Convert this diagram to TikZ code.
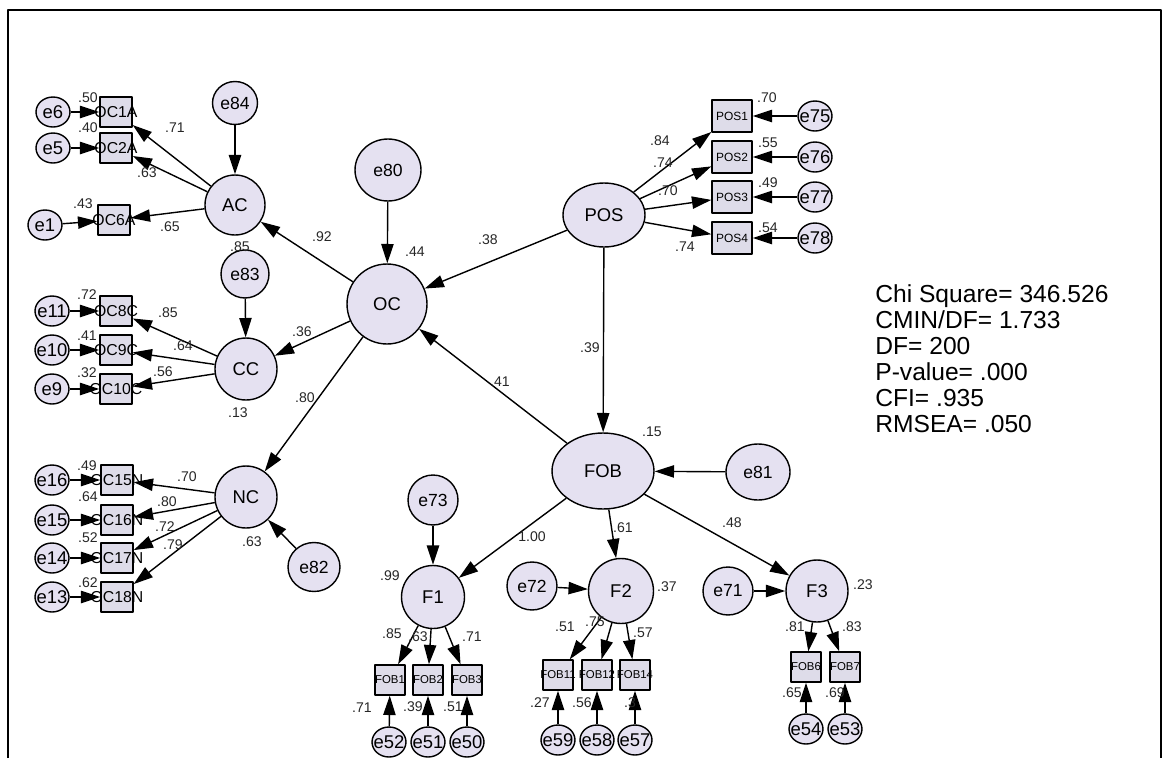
\documentclass[tikz,border=0pt]{standalone}
\usepackage{fontspec}
\setmainfont{Liberation Sans}
\usetikzlibrary{arrows.meta,shapes.geometric}
\definecolor{latfill}{RGB}{229,225,241}
\definecolor{obsfill}{RGB}{222,220,233}
\newcommand{\cl}[1]{\makebox[0pt]{#1}}
\begin{document}
\begin{tikzpicture}[x=0.02cm,y=-0.02cm,line join=round,>={Triangle[length=11pt,width=7pt]},
	lat/.style={ellipse,draw,line width=0.8pt,fill=latfill,inner sep=0pt,font=\fontsize{10.5}{11}\selectfont},
	err/.style={ellipse,draw,line width=0.8pt,fill=latfill,inner sep=0pt,minimum width=0.68cm,minimum height=0.6cm,font=\fontsize{10.5}{10}\selectfont},
	obs/.style={rectangle,draw,line width=0.8pt,fill=obsfill,inner sep=0pt,minimum width=0.64cm,minimum height=0.6cm},
	coef/.style={font=\fontsize{8}{8}\selectfont,inner sep=0pt,text=black!85},
	path/.style={->,line width=0.8pt}]
	\useasboundingbox (0,0) rectangle (1164,758);
	\draw[line width=1.1pt] (8,758)--(8,10)--(1161,10)--(1161,758);
	\node[lat,minimum size=1.2cm] (AC) at (235,205) {AC};
	\node[lat,minimum size=1.6cm] (OC) at (387,304) {OC};
	\node[lat,minimum size=1.24cm] (CC) at (246,369) {CC};
	\node[lat,minimum size=1.24cm] (NC) at (246,497) {NC};
	\node[lat,minimum width=1.64cm,minimum height=1.28cm] (POS) at (604,215) {POS};
	\node[lat,minimum width=2.04cm,minimum height=1.52cm] (FOB) at (603,471) {FOB};
	\node[lat,minimum size=1.26cm] (F1) at (433,597) {F1};
	\node[lat,minimum size=1.3cm] (F2) at (621,591) {F2};
	\node[lat,minimum size=1.24cm] (F3) at (817,591) {F3};
	\node[lat,minimum width=0.9cm,minimum height=0.86cm,font=\fontsize{10}{10}\selectfont] (e84) at (235,103) {e84};
	\node[lat,minimum width=1.32cm,minimum height=1.24cm,font=\fontsize{10}{10}\selectfont] (e80) at (388,170) {e80};
	\node[lat,minimum size=0.96cm,font=\fontsize{10}{10}\selectfont] (e83) at (245,274) {e83};
	\node[lat,minimum width=1.04cm,minimum height=0.98cm,font=\fontsize{10}{10}\selectfont] (e82) at (314,567) {e82};
	\node[lat,minimum width=1.28cm,minimum height=1.12cm,font=\fontsize{10}{10}\selectfont] (e81) at (758,472) {e81};
	\node[lat,minimum size=1cm,font=\fontsize{10}{10}\selectfont] (e73) at (433,500) {e73};
	\node[lat,minimum width=1cm,minimum height=0.96cm,font=\fontsize{10}{10}\selectfont] (e72) at (532,586) {e72};
	\node[lat,minimum width=1cm,minimum height=0.96cm,font=\fontsize{10}{10}\selectfont] (e71) at (728,591) {e71};
	\foreach \n/\x/\y in {OC1A/116/112,OC2A/116/148,OC6A/114/220,OC8C/116/311,OC9C/116/350,OC10C/116/389,OC15N/117/480,OC16N/117/520,OC17N/117/558,OC18N/117/597}
		\node[obs,font=\fontsize{9}{9}\selectfont] (\n) at (\x,\y) {\cl{\n}};
	\foreach \n/\y in {POS1/116,POS2/157,POS3/197,POS4/238}
		\node[obs,minimum width=0.8cm,minimum height=0.64cm,font=\fontsize{6.8}{7}\selectfont] (\n) at (732,\y) {\cl{\n}};
	\foreach \n/\x/\y in {FOB1/390/680,FOB2/428/680,FOB3/467/680,FOB11/558/675,FOB12/597/675,FOB14/635/675,FOB6/806/667,FOB7/845/667}
		\node[obs,minimum width=0.6cm,minimum height=0.6cm,font=\fontsize{6.5}{7}\selectfont] (\n) at (\x,\y) {\cl{\n}};
	\foreach \n/\x/\y in {e6/53/112,e5/53/148,e1/45/225,e11/52/311,e10/52/350,e9/52/389,e16/52/480,e15/52/520,e14/52/558,e13/52/597,e75/815/116,e76/815/157,e77/815/197,e78/815/238,e52/389/742,e51/428/742,e50/467/742,e59/558/740,e58/597/740,e57/635/740,e54/806/729,e53/845/729}
		\node[err] (\n) at (\x,\y) {\cl{\n}};
	\foreach \a/\b in {e84/AC,OC/AC,e80/OC,POS/OC,OC/CC,OC/NC,FOB/OC,POS/FOB,e83/CC,e82/NC,e81/FOB,FOB/F1,FOB/F2,FOB/F3,e73/F1,e72/F2,e71/F3}
		\draw[path] (\a)--(\b);
	\foreach \a/\b in {AC/OC1A,AC/OC2A,AC/OC6A,CC/OC8C,CC/OC9C,CC/OC10C,NC/OC15N,NC/OC16N,NC/OC17N,NC/OC18N,POS/POS1,POS/POS2,POS/POS3,POS/POS4,F1/FOB1,F1/FOB2,F1/FOB3,F2/FOB11,F2/FOB12,F2/FOB14,F3/FOB6,F3/FOB7}
		\draw[path] (\a)--(\b);
	\foreach \a/\b in {e6/OC1A,e5/OC2A,e1/OC6A,e11/OC8C,e10/OC9C,e9/OC10C,e16/OC15N,e15/OC16N,e14/OC17N,e13/OC18N,e75/POS1,e76/POS2,e77/POS3,e78/POS4,e52/FOB1,e51/FOB2,e50/FOB3,e59/FOB11,e58/FOB12,e57/FOB14,e54/FOB6,e53/FOB7}
		\draw[path] (\a)--(\b);
	\foreach \t/\x/\y [count=\i] in {.50/88/98,.40/88/128,.71/175/128,.63/147/173,.43/83/204,.65/170/227,.85/240/247,.92/322/237,.44/415/252,.38/488/240,.36/302/332,.80/305/398,.41/500/382,.39/590/348,.15/652/432,.84/660/141,.74/663/163,.70/668/191,.74/685/247,.70/767/98,.55/768/143,.49/768/183,.54/768/228,.72/87/295,.85/168/313,.41/87/336,.64/183/346,.32/87/373,.56/163/372,.13/238/413,.49/87/466,.70/187/477,.64/88/497,.80/167/502,.72/165/527,.52/88/538,.79/173/545,.63/252/542,.62/88/583,1.00/532/537,.61/623/528,.48/732/523,.99/390/576,.37/667/587,.85/392/634,.63/418/637,.71/472/637,.71/362/708,.39/413/707,.51/453/707,.51/565/627,.75/595/622,.57/643/633,.27/540/703,.56/582/703,.3/630/703,.23/863/585,.81/795/627,.83/852/627,.65/792/693,.69/835/693}
		\node[coef] (c\i) at (\x,\y) {\t};
	\node[anchor=north west,inner sep=0pt,align=left,font=\fontsize{14}{14.8}\selectfont] (fit) at (875,284) {Chi Square= 346.526\\CMIN/DF= 1.733\\DF= 200\\P-value= .000\\CFI= .935\\RMSEA= .050};
\end{tikzpicture}
\end{document}
